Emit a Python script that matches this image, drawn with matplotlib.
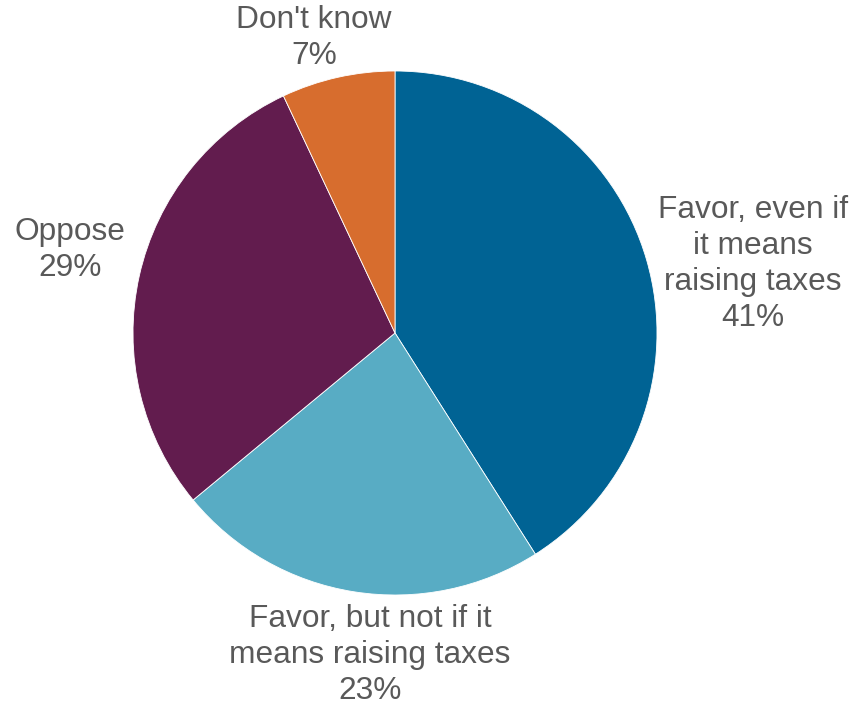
import matplotlib
matplotlib.use("Agg")
import matplotlib.pyplot as plt
import numpy as np

categories = ["Favor, even if\nit means\nraising taxes", "Favor, but not if it\nmeans raising taxes", "Oppose", "Don't know"]
values = [41, 23, 29, 7]
colors = ["#006394", "#58ACC4", "#621C4E", "#D76D2E"]

plt.rcParams['font.family'] = ['Liberation Sans', 'DejaVu Sans']

fig = plt.figure(figsize=(8.58, 7.05), dpi=100)
cx, cy, r = 395 / 858, 1 - 333 / 705, 262
ax = fig.add_axes([cx - r / 858, cy - r / 705, 2 * r / 858, 2 * r / 705])
ax.pie(values, colors=colors, startangle=90, counterclock=False,
       wedgeprops=dict(edgecolor="white", linewidth=0.6))
ax.set_xlim(-1, 1)
ax.set_ylim(-1, 1)
ax.set_aspect("auto")
ax.axis("off")

# label positions (data coordinates relative to pie radius)
label_pos = [(1.366, 0.263), (-0.095, -1.229), (-1.24, 0.317), (-0.309, 1.126)]
for cat, v, (x, y) in zip(categories, values, label_pos):
    ax.text(x, y, f"{cat}\n{v}%", ha="center", va="center", fontsize=22.8,
            color="#595959", linespacing=1.25, clip_on=False)

fig.savefig("out.png", dpi=100)
